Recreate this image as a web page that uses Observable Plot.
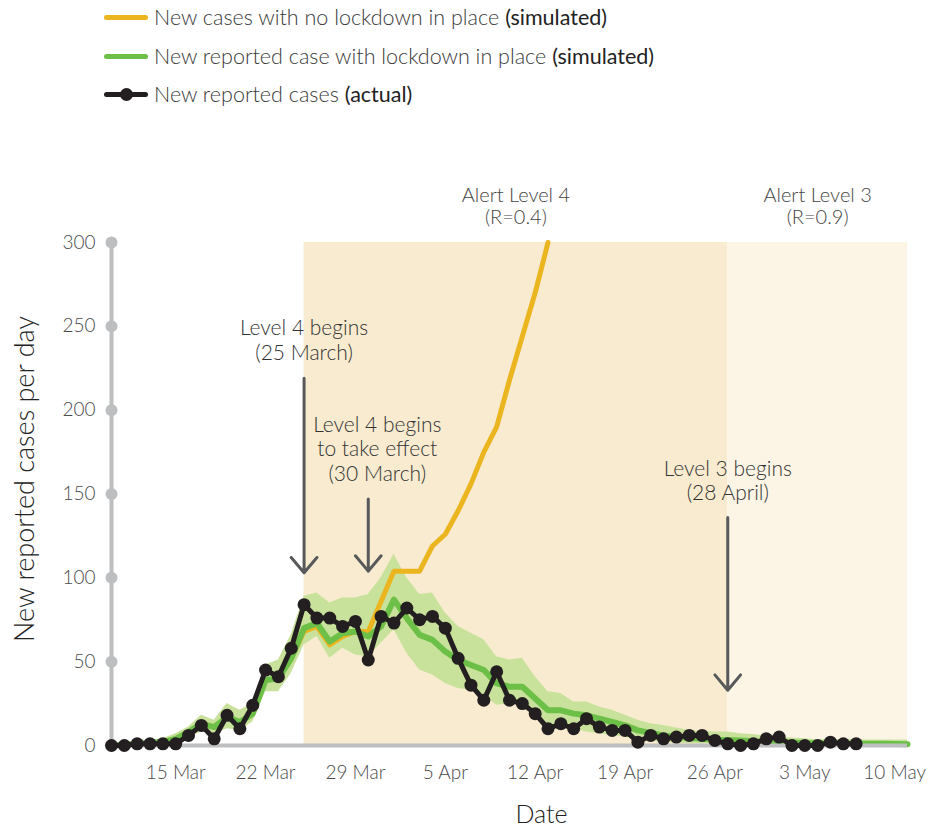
<!DOCTYPE html>
<html><head><meta charset="utf-8">
<script src="https://cdn.jsdelivr.net/npm/d3@7"></script>
<script src="https://cdn.jsdelivr.net/npm/@observablehq/plot@0.6"></script>
<style>
body{margin:0;background:#fff;font-family:Lato,"Open Sans",sans-serif;}
#legend{position:relative;height:118px;width:949px;}
.item{position:absolute;left:104px;height:26px;display:flex;align-items:center;font-size:21.5px;color:#3a3a3a;font-weight:300;white-space:nowrap;}
.sw{width:44px;height:5px;border-radius:3px;margin-right:6px;position:relative;}
.sw .pt{position:absolute;left:16px;top:-4px;width:13px;height:13px;border-radius:50%;}
.item b{font-weight:400;color:#222;margin-left:6px;}
#chart svg text{font-weight:300;}
</style></head><body>
<div id="legend"></div>
<div id="chart"></div>
<script>
// ---- data ----
const startDate = "2020-03-10";
const endDate = "2020-05-11";
// New reported cases (actual), one per day from startDate
const actualCases = [0,0,1,1,1,1,6,12,4,18,10,24,45,41,58,84,76,76,71,74,51,77,73,82,75,77,70,52,36,27,44,27,25,19,10,13,10,16,11,9,9,2,6,4,5,6,6,3,1,0,1,4,5,0,0,0,2,1,1];
// Simulated with lockdown: median, lower and upper band
const lockdownMedian = [0,0.5,1,1.5,2,4,8,13,11,17,14,19,39,40,52,70,73,62,67,68,65,71,87,76,66,63,56,51,48,45,37,35,35,28,21,21,19,18,16,14,12,9,7.5,6,5,4.5,4,3.5,3.3,3,2.5,2.2,2,1.8,1.5,1.4,1.3,1.2,1.1,1,1,0.9,0.8];
const lockdownLow = [0,0,0,0,0.5,2,5,8,7,10,9,14,32,32,43,60,65,52,58,54,53,61,69,55,45,42,37,34,33,30,24,25,25,19,13,11,10,8,7,6,5,3.5,2.5,2,1.5,1,1,1,0.5,0.5,0.5,0.5,0.5,0.5,0.5,0.5,0,0,0,0,0,0,0];
const lockdownHigh = [0.5,1,2,3,4,7,11,18,15,25,21,25,48,51,66,89,91,85,88,88,90,100,114,100,90,91,79,71,67,63,53,51,52,41,32,31,26,26,23,21,18,15,13,12,10.5,9,8.5,8,8,7,6.5,5.5,5,4.5,4,3.5,3.5,3.5,3.3,3.3,3.3,3.3,3.3];
// Simulated with no lockdown
const noLockdown = [0,0.5,1,1.5,2,4,8,13,11,17,14,19,39,40,52,68,71,60,65,68,68,86,104,104,104,119,126,140,156,175,190,218,244,270,300];
// axes
const yTicks = [0,50,100,150,200,250,300];
const xTickDates = ["2020-03-15","2020-03-22","2020-03-29","2020-04-05","2020-04-12","2020-04-19","2020-04-26","2020-05-03","2020-05-10"];
// alert levels
const levelTitles = ["Alert Level 4\n(R=0.4)","Alert Level 3\n(R=0.9)"];
const levelStarts = ["2020-03-25","2020-04-27"];
const levelEnds = ["2020-04-27","2020-05-11"];
const levelFills = ["#f8ebd0","#fcf5e6"];
// annotations
const noteTexts = ["Level 4 begins\n(25 March)","Level 4 begins\nto take effect\n(30 March)","Level 3 begins\n(28 April)"];
const noteDates = ["2020-03-25","2020-03-30","2020-04-27"];
const noteValues = [242,177,158];
const arrowFrom = [219,147,136];
const arrowTo = [103,104,33];
// legend
const legendLabels = ["New cases with no lockdown in place","New reported case with lockdown in place","New reported cases"];
const legendTags = ["(simulated)","(simulated)","(actual)"];
const legendColors = ["#ebb520","#6cbf47","#231f20"];

// ---- build ----
const t0 = new Date(startDate);
const day = i => d3.utcDay.offset(t0, i);
const actual = actualCases.map((v,i)=>({date:day(i), v}));
const sim = lockdownMedian.map((v,i)=>({date:day(i), v, lo:lockdownLow[i], hi:lockdownHigh[i]}));
const noLock = noLockdown.map((v,i)=>({date:day(i), v}));
const levels = levelTitles.map((t,i)=>({title:t, x1:new Date(levelStarts[i]), x2:new Date(levelEnds[i]), fill:levelFills[i]}));
levels.forEach(d=>d.mid = new Date((+d.x1 + +d.x2)/2));
const notes = noteTexts.map((t,i)=>({text:t, date:new Date(noteDates[i]), v:noteValues[i], from:arrowFrom[i], to:arrowTo[i]}));

// legend
const lg = document.getElementById("legend");
const tops = [4,43,81];
legendLabels.forEach((l,i)=>{
  const it = document.createElement("div");
  it.className = "item"; it.style.top = tops[i]+"px";
  const sw = document.createElement("span"); sw.className="sw"; sw.style.background = legendColors[i];
  if (i===2){ const p=document.createElement("span"); p.className="pt"; p.style.background=legendColors[i]; sw.appendChild(p); }
  it.appendChild(sw);
  it.appendChild(document.createTextNode(l+" "));
  const b = document.createElement("b"); b.textContent = legendTags[i]; it.appendChild(b);
  lg.appendChild(it);
});

const axisGray = "#bcbec0";
const noteStyle = {x:"date", y:"v", text:"text", fontSize:21, fill:"#333", lineHeight:1.15, lineAnchor:"middle"};
const chart = Plot.plot({
  width: 949, height: 708,
  marginTop: 124, marginBottom: 81, marginLeft: 111, marginRight: 42,
  style: {fontFamily: "Lato, 'Open Sans', sans-serif", fontSize: "18px", color: "#4a4a4a", background: "transparent"},
  x: {type: "utc", domain: [new Date(startDate), new Date(endDate)]},
  y: {domain: [0, 300]},
  color: {type: "identity"},
  marks: [
    Plot.rect(levels, {x1:"x1", x2:"x2", y1:0, y2:300, fill:"fill"}),
    Plot.text(levels, {x:"mid", y:322, text:"title", fontSize:20, fill:"#444", lineHeight:1.1, lineAnchor:"middle"}),
    Plot.areaY(sim, {x:"date", y1:"lo", y2:"hi", fill:"#c9e29b"}),
    Plot.lineY(noLock, {x:"date", y:"v", stroke:legendColors[0], strokeWidth:5}),
    Plot.lineY(sim, {x:"date", y:"v", stroke:legendColors[1], strokeWidth:6}),
    Plot.ruleX([t0], {y1:0, y2:300, stroke:axisGray, strokeWidth:4}),
    Plot.ruleY([0], {x1:new Date(startDate), x2:new Date(endDate), stroke:axisGray, strokeWidth:4}),
    Plot.dot(yTicks, {x:()=>t0, y:d=>d, r:6, fill:axisGray}),
    Plot.lineY(actual, {x:"date", y:"v", stroke:legendColors[2], strokeWidth:5}),
    Plot.dot(actual, {x:"date", y:"v", r:6.5, fill:legendColors[2]}),
    Plot.arrow(notes, {x:"date", y1:"from", y2:"to", stroke:"#58595b", strokeWidth:3, headAngle:80, headLength:10}),
    Plot.text([notes[0], notes[2]], noteStyle),
    Plot.text([notes[1]], {...noteStyle, dx: 9}),
    Plot.axisY({ticks:yTicks, tickSize:0, tickPadding:16, fontSize:19, label:null}),
    Plot.axisX({ticks:xTickDates.map(d=>new Date(d)), tickFormat:d3.utcFormat("%-d %b"), tickSize:0, tickPadding:20, fontSize:19, label:null}),
    Plot.text(["New reported cases per day"], {frameAnchor:"left", rotate:-90, dx:-86, dy:-15, textAnchor:"middle", lineAnchor:"middle", fontSize:27, fill:"#222"}),
    Plot.text(["Date"], {frameAnchor:"bottom", dy:69, dx:32, textAnchor:"middle", lineAnchor:"middle", fontSize:25, fill:"#222"})
  ]
});
document.getElementById("chart").appendChild(chart);
</script>
</body></html>
